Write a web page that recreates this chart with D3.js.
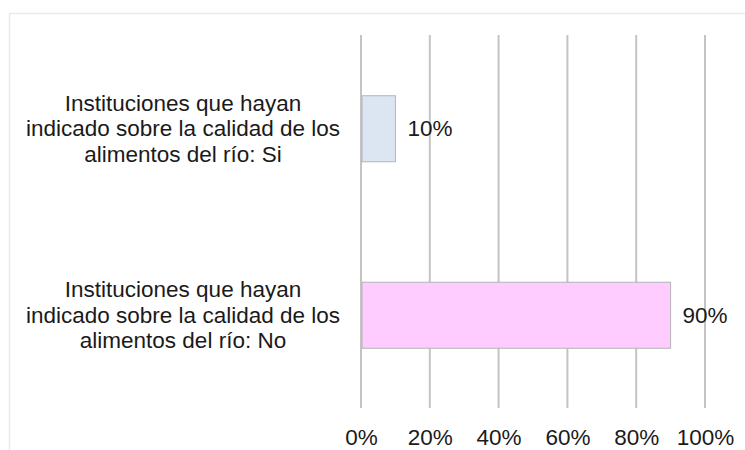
<!DOCTYPE html>
<html>
<head>
<meta charset="utf-8">
<script src="https://cdn.jsdelivr.net/npm/d3@7"></script>
<style>
  html, body { margin: 0; padding: 0; background: #fff; }
  svg { display: block; }
  text { font-family: "Liberation Sans", Arial, sans-serif; fill: #1a1a1a; }
</style>
</head>
<body>
<svg id="chart" width="745" height="450"></svg>
<script>
const categories = [
  ["Instituciones que hayan", "indicado sobre la calidad de los", "alimentos del río: Si"],
  ["Instituciones que hayan", "indicado sobre la calidad de los", "alimentos del río: No"]
];
const values = [10, 90];
const valueLabels = ["10%", "90%"];
const barColors = ["#dce6f2", "#ffccff"];
const tickValues = [0, 20, 40, 60, 80, 100];
const tickLabels = ["0%", "20%", "40%", "60%", "80%", "100%"];

const svg = d3.select("#chart");
const W = 745, H = 450;
const m = { left: 361, right: 40, top: 35, bottom: 42 };
const FS = 22.5;

// outer border
svg.append("rect")
  .attr("x", 9.5).attr("y", 13.5)
  .attr("width", W + 10).attr("height", H + 10)
  .attr("fill", "none").attr("stroke", "#ebebeb").attr("stroke-width", 1.5);

const x = d3.scaleLinear().domain([0, 100]).range([m.left, W - m.right]);
const ids = categories.map((d, i) => i);
const y = d3.scaleBand().domain(ids).range([m.top, H - m.bottom])
  .paddingInner(0.646).paddingOuter(0.323);

// gridlines
svg.append("g").selectAll("line").data(tickValues).join("line")
  .attr("x1", d => x(d)).attr("x2", d => x(d))
  .attr("y1", m.top).attr("y2", H - m.bottom)
  .attr("stroke", "#c4c4c4").attr("stroke-width", 2);

// bars
svg.append("g").selectAll("rect").data(ids).join("rect")
  .attr("x", x(0) + 1)
  .attr("y", i => y(i) + 0.5)
  .attr("width", i => x(values[i]) - x(0) - 1)
  .attr("height", y.bandwidth())
  .attr("fill", i => barColors[i])
  .attr("stroke", "#b4b4b4").attr("stroke-width", 1);

// value labels
svg.append("g").selectAll("text").data(ids).join("text")
  .attr("x", i => x(values[i]) + 12)
  .attr("y", i => y(i) + y.bandwidth() / 2)
  .attr("dy", "0.35em")
  .attr("font-size", FS)
  .text(i => valueLabels[i]);

// category labels
const lh = 25.5;
const cx = 183;
const cat = svg.append("g").selectAll("text").data(ids).join("text")
  .attr("text-anchor", "middle")
  .attr("font-size", FS)
  .attr("x", cx)
  .attr("y", i => y(i) + y.bandwidth() / 2);
cat.selectAll("tspan").data(i => categories[i].map((t, k) => ({ t, k, n: categories[i].length })))
  .join("tspan")
  .attr("x", cx)
  .attr("dy", d => d.k === 0 ? ((-(d.n - 1) / 2) * lh + 7.9) : lh)
  .text(d => d.t);

// x axis labels
const axis = d3.axisBottom(x).tickValues(tickValues)
  .tickFormat((d, i) => tickLabels[i]).tickSize(0).tickPadding(0);
const ag = svg.append("g").attr("transform", `translate(0, ${H - 5})`).call(axis);
ag.select(".domain").remove();
ag.selectAll("text").attr("font-size", FS).attr("dy", null).attr("y", 0)
  .style("font-family", "'Liberation Sans', Arial, sans-serif").attr("fill", "#1a1a1a");
</script>
</body>
</html>
